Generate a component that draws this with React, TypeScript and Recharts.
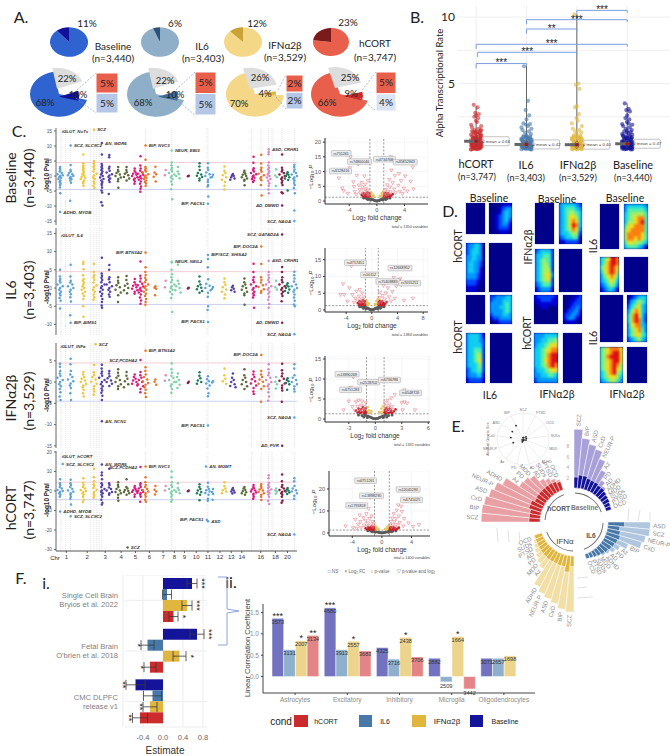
import React from 'react';
import {
  PieChart, Pie, Cell, BarChart, Bar, LabelList, ErrorBar, XAxis, YAxis, CartesianGrid,
  ScatterChart, Scatter, ReferenceLine, ReferenceDot,
  RadarChart, Radar, PolarGrid, PolarAngleAxis, PolarRadiusAxis,
} from 'recharts';

const LATO = 'Lato, "Open Sans", sans-serif';
const ARIAL = '"Liberation Sans", Arial, sans-serif';

const RED = '#CC2B2E';
const STEEL = '#4878A8';
const GOLD = '#E0B63E';
const NAVY = '#14149A';

// --- A: pies
const topShares = [11, 6, 12, 23];
const topMain = ['#2F63CF', '#8FAFC9', '#F5D788', '#E8604C'];
const topDark = ['#10109A', '#2C5278', '#C9A335', '#7B1A1A'];
const restShares = [68, 68, 70, 66];
const grayShares = [22, 22, 26, 25];
const hitShares = [10, 10, 4, 9];
const hitColors = ['#10109A', '#3D6A94', '#E0B63E', '#C92A2A'];
const startAngles = [100, 100, 105, 105];
const upperShares = [5, 5, 2, 5];
const lowerShares = [5, 5, 2, 4];
const lowerColors = ['#B4C7E7', '#B4C7E7', '#B4C7E7', '#DAE3F3'];

// --- B: alpha transcriptional rate
const hcortRates = [3.4, 3.2, 2.8, 2.7, 2.6, 2.5, 2.4, 2.2, 2.1, 1.9, 1.8, 1.7, 1.6, 1.5, 1.45, 1.4, 1.35, 1.3, 1.25, 1.2, 1.15, 1.1, 1.05, 1, 0.95, 0.9, 0.85, 0.8, 0.75, 0.7, 0.65, 0.6, 0.55, 0.5, 0.45, 0.4, 0.35, 0.3, 0.25, 0.2, 0.15, 0.1, 0.05, 1.5, 1.42, 1.34, 1.26, 1.18, 1.02, 0.92, 0.82, 0.72, 0.62, 0.52, 0.42, 0.32, 0.22, 0.12];
const il6Rates = [6.3, 3.7, 3, 2.6, 2.3, 2, 1.95, 1.9, 1.8, 1.7, 1.6, 1.5, 1.4, 1.3, 1.2, 1.1, 1.05, 1, 0.95, 0.9, 0.85, 0.8, 0.75, 0.7, 0.65, 0.6, 0.55, 0.5, 0.45, 0.4, 0.35, 0.3, 0.25, 0.2, 0.15, 0.1, 0.05];
const ifnRates = [10.2, 5, 4.9, 4.6, 3.3, 3.2, 2.7, 2.4, 2.2, 2, 1.8, 1.6, 1.5, 1.4, 1.3, 1.2, 1.1, 1.05, 1, 0.95, 0.9, 0.85, 0.8, 0.75, 0.7, 0.65, 0.6, 0.55, 0.5, 0.45, 0.4, 0.35, 0.3, 0.25, 0.2, 0.15, 0.1, 0.05];
const baseRates = [3.5, 3.1, 3, 2.9, 2.6, 2.4, 2.3, 2.1, 2, 1.95, 1.9, 1.8, 1.7, 1.6, 1.5, 1.45, 1.4, 1.35, 1.3, 1.25, 1.2, 1.15, 1.1, 1.05, 1, 0.95, 0.9, 0.85, 0.8, 0.75, 0.7, 0.65, 0.6, 0.55, 0.5, 0.45, 0.4, 0.35, 0.3, 0.25, 0.2, 0.15, 0.1, 0.05];
const lowRates = [1.02, 0.97, 0.92, 0.88, 0.83, 0.78, 0.74, 0.69, 0.64, 0.61, 0.57, 0.53, 0.49, 0.46, 0.43, 0.39, 0.36, 0.33, 0.29, 0.27, 0.24, 0.21, 0.18, 0.16, 0.13, 0.11, 0.08, 0.06, 0.04, 0.48, 0.41, 0.31, 0.26, 0.19, 0.14, 0.09];
const rateJitter = [-0.08, 0.05, -0.03, 0.09, 0, -0.06, 0.07, -0.01, 0.03, -0.1, 0.1];
const rateMeans = [0.66, 0.42, 0.4, 0.47];
const rateMax = [3.3, 6.3, 10.2, 3.5];
const bracketStart = [1, 1.03, 1, 2, 2, 3];
const bracketEnd = [2, 3, 4, 3, 4, 4];
const bracketY = [6.5, 7.35, 7.95, 9.1, 9.8, 10.5];
const bracketStars = ['***', '***', '***', '**', '***', '***'];

// --- C: per-locus association tracks
const columnPos = [1.7, 6.1, 11.4, 15.8, 19.1, 22.2, 25.9, 29.4, 32.8, 35.2, 37.3, 41.4, 45.7, 48.2, 50.8, 55.3, 59.8, 63.3, 65.4, 70.2, 73.7, 78.5, 82.3, 85.5, 88.6, 91.7, 94.2, 96.5, 99.3];
const columnColors = ['#5BA3D9', '#5BA3D9', '#F0C63A', '#F0C63A', '#5540A8', '#5540A8', '#5A6B3A', '#5A6B3A', '#D81B7F', '#D81B7F', '#E8742A', '#E8742A', '#E88AB0', '#7FD0A8', '#7FD0A8', '#8A1C45', '#1F7A5C', '#5BA3D9', '#5BA3D9', '#F0C63A', '#5540A8', '#5A6B3A', '#D81B7F', '#E8742A', '#D987C2', '#7FD0A8', '#8A1C45', '#1F7A5C', '#5BA3D9'];
const dottedPos = [2, 4, 6.1, 14.5, 15.8, 17, 18, 19.1, 37.3, 48.2, 63.3, 81.5, 85.5, 88.6, 90, 94.2, 99.3];
const chrTicks = [4.3, 13, 20.5, 27.1, 33.1, 38.9, 44.6, 49.3, 53.5, 58.4, 63.3, 68.3, 73, 77.4, 85.3, 91.4, 96.4];
const chrNames = ['1', '2', '3', '4', '5', '6', '7', '8', '9', '10', '11', '12', '13', '14', '16', '18', '20'];

const baselineHits = [
  [3, 2.5, 2, 1.5, 1, 0.6, 0.3, 0, -0.3, -0.6, -1, -1.5, -2, -2.5, -3, -3.8, -5.7],
  [3.7, 2, 1.5, 1, 0.6, 0.3, 0, -0.3, -0.7, -1, -1.5, -2.2, -8.2],
  [7.2, 4.3, 3.5, 3, 2.5, 2, 1.5, 1, 0.6, 0.2, -0.2, -0.6, -1, -1.5, -2, -2.5, -3.3],
  [5, 4.2, 3.5, 3, 2.3, 1.5, 0.8, 0.2, -0.5, -1, -1.8, -2.5, -3.2, -4],
  [7.2, 4, 3.4, 3, 2.5, 2, 1.5, 1, 0.5, 0, -0.5, -1, -1.5, -2, -2.5, -3, -3.8, -4.8, -5.5, -8.7, -9.8],
  [7, 6.3, 3.1, 2.5, 1.8, 1.2, 0.6, 0.2, -0.3, -0.8, -1.3, -2, -6],
  [3, 2, 1.5, 1, 0.5, 0, -0.5, -1, -1.7, -3.9],
  [3, 2, 1.3, 0.8, 0.3, -0.3, -0.8, -1.5],
  [2.5, 1.8, 1.2, 0.8, 0.4, 0, -0.4, -0.8, -1.2, -1.8, -2.6],
  [6.6, 3.5, 2.5, 1.8, 1.2, 0.8, 0.4, 0, -0.4, -0.8, -1.2, -1.8, -2.6, -3.5, -4.2, -5.2],
  [5.4, 3, 2.5, 2, 1.5, 1, 0.6, 0.2, -0.2, -0.6, -1, -1.5, -2, -2.5, -3.3],
  [3.1, 1.2, 0.6, -0.2, -1.8],
  [2, 0.3],
  [4.5, 3.6, 2.8, 2.2, 1.6, 1, 0.5, 0, -0.5, -1, -1.8, -2.8, -4.4, -7.7],
  [3, 1.5, 0.7, 0, -0.7],
  [0.1, -0.1],
  [4.3, 3.2, 2, 1, 0.5, 0.1, -0.3, -0.8, -1.5],
  [4.3, 2.8, 2, 1.2, 0.6, 0, -0.5, -1.2, -2, -3, -3.5, -6.8],
  [0.4, -0.3],
  [3.2, 1.8, 1, 0.3, -0.4, -1.2, -2, -3.2, -4.5],
  [0.7, 0.3, 0, -0.4, -0.8, -1.2],
  [1.8, 1.3, 0.8, 0.4, 0, -0.4, -0.8, -1.2, -1.6, -3.1],
  [6.4, 4.4, 2.6, 2, 1.5, 1, 0.6, 0.2, -0.2, -0.6, -1, -1.5, -2],
  [7.1, 4.2, 2.8, 2, 1.4, 0.8, 0.3, -0.3, -0.8, -1.4, -3, -6.5],
  [8, 7.3, 4.5, 3.5, 2.8, 2.2, 1.6, 1, 0.5, 0, -0.5, -1, -1.6, -2.4, -3.2, -4.5, -5.7],
  [2.3, 0.2, -0.4, -3.3],
  [7.2, 2.8, 2, 1.5, 1, 0.5, 0, -0.5, -1, -1.6, -2.2, -3, -5.4, -5.7],
  [1.3, 0.8, 0.4, 0, -0.4, -0.8, -1.3, -4.8],
  [3.8, 3, 2.2, 1.5, 1, 0.5, 0, -0.5, -1, -1.5, -2.2, -3, -4, -5.7, -11.5],
];
const il6Hits = [
  [5, 3.2, 2.5, 2, 1.5, 1, 0.5, 0, -0.5, -1, -1.5, -2, -2.7, -3.5, -5.6],
  [6.4, 3.2, 2, 1.5, 1, 0.5, 0, -0.5, -1, -1.7, -2.5, -3.7, -7.5],
  [7.2, 6.6, 5.2, 3.5, 2.5, 2, 1.5, 1, 0.5, 0, -0.5, -1, -1.5, -2.2, -3, -5, -7.9],
  [6.6, 4.4, 3.5, 3, 2.3, 1.5, 0.8, 0.2, -0.5, -1, -1.8, -2.5, -3.2],
  [8.3, 4, 3.4, 2.8, 2.2, 1.6, 1, 0.5, 0, -0.5, -1, -1.6, -2.2, -3, -3.8, -4.8, -5.4],
  [6.3, 5, 3, 2.4, 1.6, 1, 0.5, 0, -0.5, -1, -1.8, -2.4],
  [3, 2, 1.4, 0.8, 0.2, -0.5, -1.2, -2, -3.8],
  [3.3, 2.2, 1.2, 0.6, 0, -0.6, -1.4],
  [2.5, 1.6, 1, 0.6, 0.2, -0.2, -0.6, -1, -1.6],
  [7.3, 3.4, 2.6, 1.8, 1.2, 0.8, 0.4, 0, -0.4, -0.8, -1.2, -1.8, -2.6, -3.4, -4.3],
  [5.7, 4.4, 3.6, 2.8, 2.2, 1.6, 1, 0.5, 0, -0.5, -1, -1.6, -2.2, -3, -3.8, -4.6],
  [0.5, 0.1, -0.2, -2],
  [2, 0.2],
  [7, 5, 3.8, 3, 2.2, 1.6, 1, 0.5, 0, -0.5, -1, -1.7, -2.7, -6.6],
  [6.4, 2, 1.2, 0.5, 0, -0.6, -1.2],
  [0.1, -0.1],
  [3.2, 1.8, 1, 0.5, 0.1, -0.3, -0.8, -1.3],
  [8, 5.7, 2.4, 1.2, 0.6, 0, -0.6, -1.3, -2.4, -5, -6],
  [0.3, -0.2],
  [2.6, 1.6, 0.9, 0.2, -0.4, -1, -1.8, -2.8],
  [0.6, 0.2, -0.2, -0.6, -1],
  [2.6, 1.6, 1, 0.5, 0, -0.5, -1, -1.5, -2, -4.6],
  [6.7, 4.4, 3, 2.2, 1.6, 1, 0.5, 0, -0.5, -1, -1.5, -2, -2.6, -5.4],
  [6.6, 3, 2.2, 1.5, 0.8, 0.3, -0.3, -0.8, -1.3],
  [4.4, 3.6, 2.8, 2.2, 1.6, 1, 0.5, 0, -0.5, -1, -1.6, -2.4, -3.2, -4.4, -5.4],
  [2, 0.2, -0.4],
  [5.8, 4.4, 3, 2.2, 1.6, 1, 0.5, 0, -0.5, -1, -1.6, -2.2, -3.6],
  [1.3, 0.8, 0.4, 0, -0.4, -0.8, -1.3],
  [4.5, 3.5, 2.6, 1.8, 1, 0.5, 0, -0.5, -1, -1.8, -2.6, -3.5, -4.5, -5],
];
const ifnHits = [
  [4.3, 3.6, 2.6, 2, 1.5, 1, 0.5, 0, -0.5, -1, -1.6, -2.4, -3.4, -4.2],
  [5.5, 4.2, 2.6, 1.8, 1.2, 0.6, 0.2, -0.3, -0.8, -1.4, -2.6, -4.2],
  [2.4, 1.8, 1.2, 0.8, 0.4, 0, -0.4, -0.8, -1.2, -1.8, -2.6, -3.4],
  [4, 2.3, 1.7, 1.2, 0.6, 0.1, -0.4, -1, -1.6, -2.2, -3],
  [4.1, 3.2, 2.5, 2, 1.5, 1, 0.5, 0, -0.5, -1, -1.5, -2, -2.5, -3.2, -4.2],
  [2.6, 2, 1.4, 0.9, 0.4, 0, -0.4, -0.9],
  [3, 2.2, 1.5, 1, 0.5, 0, -0.5, -1, -1.6],
  [2.4, 1.5, 0.8, 0.2, -0.5, -1.2],
  [1.8, 1.2, 0.8, 0.4, 0, -0.4, -0.8],
  [2.4, 1.6, 1, 0.5, 0, -0.5, -1, -1.6, -2.4],
  [3.5, 2.6, 1.8, 1.2, 0.6, 0.2, -0.2, -0.6, -1.2, -1.8, -2.6, -3.5],
  [0.6, 0.1, -0.6],
  [1.6, 0.3],
  [4.4, 3, 2.2, 1.5, 1, 0.5, 0, -0.5, -1, -1.6, -2.5],
  [2, 1.2, 0.5, 0, -0.6, -1.4],
  [0.1, -0.2],
  [2.3, 1.5, 0.9, 0.4, 0, -0.4],
  [1.4, 0.7, 0.2, -0.3, -0.8, -1.5, -2.6, -3.3],
  [0.2, -0.1],
  [3.2, 1.6, 0.8, 0.2, -0.4],
  [2, 1, 0.5, 0, -0.5, -0.9, -1.2],
  [3, 1.6, 1, 0.5, 0, -0.5, -1, -1.6],
  [2.5, 1.8, 1.2, 0.7, 0.2, -0.3, -0.8, -1.4, -2.2, -2.8],
  [2.6, 1.8, 1.2, 0.6, 0.1, -0.4, -1, -1.6, -4.6],
  [4.2, 3, 2.2, 1.6, 1, 0.5, 0, -0.5, -1, -1.6, -2.4, -3.4, -4.4],
  [1.2, 0.1, -0.5, -1.5],
  [4.3, 2.8, 2, 1.4, 0.8, 0.3, -0.3, -0.8, -1.4, -2, -4.6],
  [0.9, 0.5, 0.2, -0.2, -0.5, -1.8],
  [4.2, 3.2, 1.6, 1, 0.5, 0, -0.5, -1, -1.6, -2.2],
];
const hcortHits = [
  [6, 4, 3, 2, 1.2, 0.5, 0, -0.5, -1.2, -2, -3],
  [5.8, 4, 3, 2, 1, 0.3, -0.4, -1.2, -2, -3, -4, -6.9],
  [6.5, 4.2, 3, 2, 1.2, 0.5, 0, -0.5, -1.2, -2, -3, -4.5, -5.7],
  [11.4, 7, 5, 3.5, 2.5, 1.5, 0.5, -0.5, -1.5, -2.5, -3.5],
  [9.5, 8, 6, 4, 3, 2, 1, 0.3, -0.4, -1.2, -2, -3, -4.5, -6, -7],
  [11.4, 4, 3, 1.8, 1, 0.3, -0.5, -1.2, -2],
  [4.5, 3, 2, 1, 0.3, -0.5, -1.2, -2, -3.5, -5],
  [6, 2, 1.2, 0.5, 0, -0.5, -1.2, -2],
  [2.5, 1.6, 1, 0.4, 0, -0.5, -1, -1.8, -3],
  [4, 3, 2, 1.2, 0.5, 0, -0.5, -1.2, -2, -3, -5.5],
  [7, 4.5, 3, 2, 1, 0.4, -0.3, -1, -2, -3, -4.5, -5.5],
  [2.5, 0.6, -0.3, -1.8],
  [2.5, 0.3],
  [10, 7, 4.5, 3, 2, 1, 0.4, -0.3, -1, -2, -3, -4.5, -5.5],
  [4, 1.5, 0.5, -0.4, -1.2],
  [0.2, -0.2],
  [3.5, 2, 1, 0.3, -0.5, -1.2, -2, -4.8],
  [4.2, 2.2, 1, 0.4, -0.3, -1, -2, -4, -5],
  [1, -0.5, -1.5, -4.5],
  [4.5, 2.5, 1.2, 0.4, -0.3, -1.2],
  [1.5, 0.8, 0.3, -0.3, -0.8, -1.3],
  [2, 1.2, 0.6, 0, -0.6, -1.2, -2],
  [3, 2, 1.4, 0.8, 0.3, -0.3, -0.8, -1.4, -2, -3, -4],
  [3.5, 2.4, 1.5, 0.8, 0.2, -0.5, -1.2, -2, -3, -4.6],
  [8, 6.5, 4.2, 3, 2.2, 1.5, 0.8, 0.2, -0.4, -1, -1.8, -3, -5, -6.7],
  [1.2, 0.2, -0.4, -1.4],
  [8.5, 5, 3, 2, 1.2, 0.5, 0, -0.5, -1.2, -2, -3, -5, -6],
  [1.5, 0.8, 0.3, -0.3, -0.8, -1.5],
  [6.5, 5, 2.5, 1.2, 0.4, -0.3, -1.2, -2.5, -4],
];

// named hits: position, -log10 p, gene, side of the label
const baselineGenes: [number, number, string, string][] = [
  [15.8, 15.4, 'SCZ', 'right'], [6.1, 10.2, 'SCZ, SLC9C2', 'right'], [19.1, 11, 'AN, WDR6', 'right'],
  [37.3, 10.2, 'BIP, NVC3', 'right'], [48.2, 8.5, 'NEUR, EBI3', 'right'], [88.6, 8.9, 'ASD, CRHR1', 'right'],
  [63.3, -9.2, 'BIP, PACS1', 'left'], [94.2, -9.8, 'AD, DMWD', 'left'], [99.3, -15, 'SCZ, NAGA', 'left'],
  [1.7, -12, 'ADHD, MYDB', 'right'],
];
const il6Genes: [number, number, string, string][] = [
  [37.3, 9.8, 'BIP, BTN3A2', 'left'], [63.3, 9.1, 'BIP/SCZ, SHISA2', 'right'], [48.2, 7.2, 'NEUR, NEIL2', 'right'],
  [94.2, 14.7, 'SCZ, GATAD2A', 'left'], [85.5, 11.4, 'BIP, DOC2A', 'left'], [88.6, 7.5, 'ASD, CRHR1', 'right'],
  [6.1, -9.5, 'BIP, AIMS1', 'right'], [63.3, -9.3, 'BIP, PACS1', 'left'], [94.2, -9.5, 'AD, DMWD', 'left'],
  [99.3, -12.7, 'SCZ, NAGA', 'left'],
];
const ifnGenes: [number, number, string, string][] = [
  [16.5, 8.9, 'SCZ', 'right'], [37.3, 7.4, 'BIP, BTN3A2', 'right'], [35.2, 5.2, 'SCZ,PCDHA2', 'left'],
  [85.5, 6.4, 'BIP, DOC2A', 'left'], [19.1, -9.2, 'AN, NCN1', 'right'], [63.3, -10.2, 'BIP, PACS1', 'left'],
  [94.2, -15, 'AD, PVR', 'left'], [99.3, -8.3, 'SCZ, NAGA', 'left'],
];
const hcortGenes: [number, number, string, string][] = [
  [19.1, 13.6, 'AN, WDR6', 'right'], [35.2, 12.3, 'SCZ,PCDHA2', 'left'], [37.3, 12.5, 'BIP, NVC3', 'right'],
  [62.5, 12.5, 'AN, MGMT', 'right'], [1.7, -10.5, 'ADHD, MYDB', 'right'], [6.1, -13, 'SCZ, SLC9C2', 'right'],
  [63.3, -15.5, 'ASD', 'right'], [62.8, -14.8, 'BIP, PACS1', 'left'], [29.8, -29, 'SCZ', 'right'],
  [99.3, -22.3, 'SCZ, NAGA', 'left'], [2.8, 13.8, 'SCZ, SLC9C2', 'right'],
];

// --- C: volcanoes (log2 fc, -log10 p)
const volcanoCore = [[-2.2, 2.1], [-2, 1.6], [-1.9, 2.6], [-1.8, 1.9], [-1.7, 1.5], [-1.6, 2.4], [-1.5, 1.7], [-1.4, 2.9], [-1.3, 1.6], [-1.25, 2.2], [-1.2, 1.5], [-1.15, 1.9], [-1.1, 2.6], [-1.05, 1.6], [1.05, 1.6], [1.1, 2.3], [1.15, 1.5], [1.2, 1.9], [1.25, 2.7], [1.3, 1.6], [1.4, 2.2], [1.5, 1.5], [1.6, 2.6], [1.7, 1.7], [1.8, 2.1], [1.9, 1.5], [2.1, 1.9], [2.3, 2.4]];
const volcanoGold = [[-1, 2], [-0.9, 1.6], [-0.85, 3], [-0.7, 2.2], [-0.6, 1.5], [-0.45, 1.9], [0.45, 1.8], [0.55, 1.5], [0.7, 2.6], [0.8, 1.8], [0.9, 3.2], [1, 2]];
const volcanoGray = [[-1.9, 1], [-1.5, 0.9], [-1.2, 1.1], [-1, 0.8], [-0.8, 0.7], [-0.6, 0.5], [-0.45, 0.35], [-0.3, 0.2], [-0.15, 0.1], [0, 0.05], [0.15, 0.1], [0.3, 0.2], [0.45, 0.35], [0.6, 0.5], [0.8, 0.7], [1, 0.8], [1.2, 1.1], [1.5, 0.9], [1.9, 1], [-1.3, 0.5], [-0.9, 0.35], [0.9, 0.35], [1.3, 0.5]];
const volcanoRed1 = [[-5.5, 7.7], [-5, 4.3], [-4.8, 3.4], [-4.2, 2.5], [-3.9, 11.2], [-3.8, 14.9], [-3.4, 6.4], [-3.3, 4.8], [-3.2, 3.1], [-3, 2.2], [-2.9, 8.6], [-2.7, 12.4], [-2.6, 5.3], [-2.5, 3.8], [-2.4, 2.6], [-2.2, 6.2], [-2.1, 4.7], [-2, 3.4], [-1.9, 2.3], [-1.8, 8.4], [-1.7, 5.6], [-1.6, 4.1], [-1.5, 3], [-1.4, 2], [-1.3, 6.8], [-1.3, 3.6], [-1.2, 2.4], [-1.1, 1.8], [1.1, 1.8], [1.2, 2.6], [1.3, 3.8], [1.4, 2.1], [1.5, 5.4], [1.6, 3.2], [1.7, 2.3], [1.8, 7.2], [1.9, 4.6], [2, 14.9], [2, 3], [2.1, 10.4], [2.3, 6.1], [2.5, 4], [2.6, 8.5], [2.7, 2.7], [3, 13], [3.1, 5.2], [3.2, 9.2], [3.3, 3.2], [3.5, 6.8], [3.7, 2.4], [3.9, 4.2], [4.1, 8.4], [4.4, 3.3], [4.9, 6.6], [5.2, 11.4], [5.3, 4]];
const volcanoRed2 = [[-4.9, 4.5], [-4.5, 7.7], [-4.3, 4.5], [-3.8, 2.5], [-3.5, 6.5], [-3.2, 13], [-3, 4.5], [-2.8, 2.2], [-2.6, 3.4], [-2.4, 5.5], [-2.2, 2.8], [-2, 4], [-1.9, 6], [-1.8, 2.2], [-1.6, 3.2], [-1.5, 5], [-1.4, 2.6], [-1.2, 3.8], [-1.1, 2], [-0.4, 10.2], [1.1, 2], [1.2, 3.6], [1.3, 5.2], [1.5, 2.6], [1.7, 4.2], [1.8, 7.2], [2, 3.2], [2.2, 5], [2.3, 2.2], [2.5, 6.5], [2.7, 3.8], [2.8, 8.6], [3, 2.6], [3.1, 12.2], [3.2, 5.4], [3.4, 9.6], [3.6, 3.4], [3.8, 7], [4.2, 8.8], [4.4, 9.2], [4.6, 7.4], [5, 2.8], [6.4, 3.4]];
const volcanoRed3 = [[-3.6, 2.2], [-3, 4.4], [-2.8, 7.8], [-2.6, 3], [-2.5, 10.4], [-2.3, 2], [-2.2, 4.2], [-2, 3], [-1.9, 4.6], [-1.7, 2.2], [-1.6, 3.4], [-1.5, 4.4], [-1.4, 2], [-1.3, 3], [-1.2, 2.4], [-1.1, 4], [1.1, 4], [1.15, 2.4], [1.2, 3.2], [1.3, 1.9], [1.4, 4.6], [1.5, 2.8], [1.6, 3.6], [1.7, 2.2], [1.8, 5.2], [1.9, 3], [2, 2.2], [2.2, 6], [3, 4], [3.1, 2.2], [3.3, 4.2], [3.3, 7.2], [3.6, 3.9], [4.5, 2.2]];
const volcanoRed4 = [[-4.9, 3], [-3.9, 2.2], [-3.6, 6], [-3.4, 2], [-3.2, 3.8], [-3, 8], [-2.9, 5], [-2.8, 2.4], [-2.6, 23], [-2.5, 6.8], [-2.4, 3.4], [-2.2, 5.4], [-2.1, 8.6], [-2, 2.8], [-1.9, 4.4], [-1.8, 11], [-1.7, 6.4], [-1.6, 16], [-1.5, 3.4], [-1.4, 7.6], [-1.3, 5], [-1.2, 2.6], [-1.1, 4], [1.1, 3.4], [1.2, 5], [1.3, 2.4], [1.4, 6.6], [1.5, 3.6], [1.6, 8.6], [1.7, 5], [1.8, 2.6], [1.9, 6.4], [2, 10.2], [2.1, 3.6], [2.2, 12.6], [2.3, 7.6], [2.4, 4.6], [2.6, 12], [2.7, 9.6], [2.9, 3], [3, 6.4], [3.1, 20], [3.3, 14.4], [3.6, 4.4], [4.2, 2.8], [5, 3.6]];
const volcanoLabels1: [number, number, string][] = [[-5.15, 16.2, 'rs751261'], [-2.5, 13.4, 'rs74800046'], [-5.25, 10.2, 'rs6128416'], [1.1, 14.2, 'rs4734768'], [4.1, 13.2, 'rs35852943']];
const volcanoLabels2: [number, number, string][] = [[-2.55, 14.1, 'rs4757451'], [-0.36, 10.5, 'rs10112'], [2.5, 8.5, 'rs75408883'], [4.4, 12.5, 'rs12668952'], [5.9, 8, 'rs7055251']];
const volcanoLabels3: [number, number, string][] = [[-3.2, 11.2, 'rs13990269'], [-0.75, 9.2, 'rs2528702'], [-2.8, 7.3, 'rs6751283'], [1.6, 9.75, 'rs6736786'], [4, 6.5, 'rs6548726']];
const volcanoLabels4: [number, number, string][] = [[-2.2, 23.8, 'rs6751261'], [-1.4, 16.9, 'rs13998290'], [-3.4, 12.5, 'rs1791858'], [3.55, 19.8, 'rs12045293'], [4, 15, 'rs6741025']];

// --- D: density tiles, one digit per cell from cold (0) to hot (9)
const jet = ['#00008B', '#0000D8', '#0048FF', '#0098FF', '#10D0F0', '#50F0B0', '#A8F060', '#F0E020', '#FF8010', '#E01010'];
const coldTile = ['0'];
const heatA1 = ['0000111', '0001233', '0001343', '0012343', '0012342', '0012331', '0012221', '0001110'];
const heatA2 = ['2334430', '2344430', '3344330', '3443320', '3443310', '3333210', '2222100', '1111000'];
const heatB1 = ['3444432', '3455543', '3456654', '3457764', '3457874', '3457984', '3456873', '3445662', '2344551', '1122220'];
const heatB2 = ['2344442', '3445552', '3456552', '3456652', '3456662', '3456773', '3456672', '2345552', '1233331'];
const heatC1 = ['3444443', '3555554', '4566665', '4567885', '4667895', '5778885', '6788885', '6888875', '6887875', '5776654', '4555431'];
const heatC2 = ['4567998', '4578998', '5678987', '4678986', '3567875', '3456764', '2345653', '1234431'];
const heatD1 = ['2233344', '2333444', '3333454', '3334454', '3333454', '2333443', '1223333', '0012222'];
const heatD2 = ['3444431', '3444432', '3444442', '3445552', '3445662', '3445672', '3444562', '2344552', '2333441', '1222221'];
const heatE0 = ['1222221', '1122211', '0111111', '0011000', '0000000', '0000000', '0000000', '0000000'];
const heatE1 = ['0000112', '0001122', '0011222', '0012232', '0122331', '1223321', '1233210', '0111100'];
const heatE2 = ['3334444', '3344556', '3445677', '4456788', '4456899', '4457899', '4456898', '3445677', '3344554', '2333333'];
const heatF1 = ['0123444', '1345654', '2456743', '3578743', '4689742', '4689842', '3678843', '3567853', '3567754', '2345643'];
const heatF2 = ['5678887', '5678997', '5689997', '5678997', '5678986', '5678976', '4578965', '4567764', '3456653'];

// --- E: circular bars, one value per disorder
const hcortNames = ['SCZ', 'BIP', 'CxD', 'ASD', 'NEUR-P', 'ADHD', 'Az', 'PD', 'MDD', 'AD', 'SUDs', 'PTSD', 'OCD'];
const hcortLight = [10.7, 10.7, 10.5, 10, 9.5, 8.5, 5.7, 5.5, 5, 3.5, 3, 2.5, 2];
const hcortDark = [2, 2, 2, 2.4, 2.4, 1.9, 2, 2, 2, 2, 2, 1.9, 1.6];
const baseNames = ['SCZ', 'BIP', 'ASD', 'CxD', 'NEUR-P', 'Az', 'PD', 'AD', 'ADHD', 'MDD', 'SUDs', 'PTSD', 'OCD'];
const baseLight = [10.7, 9.1, 8.2, 7.6, 6.2, 4.5, 2.9, 2.2, 1.6, 1.2, 1, 0.8, 0.6];
const baseDark = [2, 2.4, 2.4, 2.1, 2, 2, 1.8, 1.8, 1.6, 1.4, 1.3, 1.1, 1];
const il6Names = ['ASD', 'SCZ', 'NEUR-P', 'CxD', 'BIP', 'Az', 'PD', 'AD', 'ADHD', 'MDD', 'SUDs', 'PTSD', 'OCD'];
const il6Light = [7.7, 7.7, 7.1, 6.7, 4.5, 3.3, 2.8, 2.2, 1.9, 1.4, 1.1, 0.9, 0.8];
const il6Dark = [3, 2.2, 2.4, 2.6, 2.4, 2.2, 2, 1.8, 1.6, 1.4, 1.2, 1, 0.9];
const ifnNames = ['SCZ', 'BIP', 'CxD', 'ASD', 'NEUR-P', 'ADHD', 'Az', 'MDD', 'PD', 'AD', 'PTSD', 'SUDs', 'OCD'];
const ifnLight = [10.2, 9.8, 9, 8.5, 8, 7.2, 4, 3.5, 3, 2.6, 2.2, 1.9, 1.6];
const ifnDark = [1.9, 3, 2.1, 2.1, 2, 2, 2, 1.9, 1.8, 1.7, 1.6, 1.5, 1.4];
const polarNames = ['SCZ', 'PTSD', 'OCD', 'SUDs', 'MDD', 'ADHD', 'AD', 'PD', 'Az', 'NEUR-P', 'CxD', 'ASD', 'BIP'];
const polarValues = [0.05, 0.06, 0.14, 0.13, 0.12, 0.05, 0.06, 0.11, 0.05, 0.4, 0.47, 0.5, 0.58];

// --- F.i: regression estimates
const studies = ['Single Cell Brain|Bryios et al. 2022', "Fetal Brain|O'brien et al. 2018", 'CMC DLPFC|release v1'];
const estBaseline = [0.58, 0.68, -0.55];
const estIL6 = [0.08, -0.31, -0.21];
const estIFN = [0.48, 0.33, -0.26];
const estHcort = [0.21, -0.26, -0.46];
const errBaseline = [0.1, 0.14, 0.19];
const errIL6 = [0.09, 0.13, 0.18];
const errIFN = [0.1, 0.13, 0.14];
const errHcort = [0.09, 0.12, 0.15];
const starsBaseline = ['***', '***', '**'];
const starsIL6 = ['', '*', ''];
const starsIFN = ['***', '*', '**'];
const starsHcort = ['*', '*', '**'];
const estimateTable = studies.map((study, i) => ({
  study,
  baseline: estBaseline[i], baselineErr: errBaseline[i],
  il6: estIL6[i], il6Err: errIL6[i],
  ifn: estIFN[i], ifnErr: errIFN[i],
  hcort: estHcort[i], hcortErr: errHcort[i],
}));

// --- F.ii: correlation by cell type
const cellTypes = ['Astrocytes', 'Excitatory', 'Inhibitory', 'Microglia', 'Oligodendrocytes'];
const corrBaseline = [1.365, 1.61, 0.68, 0.43, 0.43];
const corrIL6 = [0.63, 0.63, 0.41, -0.125, 0.43];
const corrIFN = [0.84, 0.83, 0.92, 0.94, 0.486];
const corrHcort = [0.965, 0.6, 0.46, -0.29, 0];
const nBaseline = [3573, 4580, 4325, 2882, 3071];
const nIL6 = [3131, 3913, 3716, 2509, 2657];
const nIFN = [2007, 2557, 2438, 1664, 1698];
const nHcort = [3134, 3683, 3706, 3442, 2652];
const sigBaseline = ['***', '***', '', '', ''];
const sigIL6 = ['', '', '', '', ''];
const sigIFN = ['*', '*', '*', '*', ''];
const sigHcort = ['**', '', '', '', ''];
const corrTable = cellTypes.map((cell, i) => ({
  cell, baseline: corrBaseline[i], il6: corrIL6[i], ifn: corrIFN[i], hcort: corrHcort[i],
}));

function Box({ left, top, children, style }: any) {
  return <div style={{ position: 'absolute', left, top, ...style }}>{children}</div>;
}

function T({ x, y, size = 10, color = '#222', anchor = 'middle', rotate = 0, weight, italic, font = LATO, children }: any) {
  return (
    <text
      x={x} y={y} fontSize={size} fill={color} textAnchor={anchor} dominantBaseline="central"
      fontFamily={font} fontWeight={weight} fontStyle={italic ? 'italic' : undefined}
      transform={rotate ? `rotate(${rotate} ${x} ${y})` : undefined}
    >
      {children}
    </text>
  );
}

// the pies in the reference are stretched sideways, so they get squeezed vertically
const PIE_SQUEEZE = 0.78;

function TopPie({ cx, cy, r, i }: any) {
  const data = [{ v: 100 - topShares[i] }, { v: topShares[i] }];
  return (
    <Box left={cx - r - 1} top={cy - r - 1} style={{ transform: `scaleY(${PIE_SQUEEZE})` }}>
      <PieChart width={2 * r + 2} height={2 * r + 2} margin={{ top: 0, right: 0, bottom: 0, left: 0 }}>
        <Pie data={data} dataKey="v" cx={r + 1} cy={r + 1} outerRadius={r} startAngle={90} endAngle={-270} stroke="none" isAnimationActive={false}>
          <Cell fill={topMain[i]} />
          <Cell fill={topDark[i]} />
        </Pie>
      </PieChart>
    </Box>
  );
}

function ExplodedPie({ left, i, rest, gray, hit }: any) {
  const a0 = startAngles[i];
  const a1 = a0 - grayShares[i] * 3.6;
  const a2 = a1 - hitShares[i] * 3.6;
  const a3 = a2 - restShares[i] * 3.6;
  const slice = (key: string, value: number, from: number, to: number, at: number[], r: number, fill: string) => (
    <Pie key={key} data={[{ v: value }]} dataKey="v" cx={at[0]} cy={at[1]} outerRadius={r} startAngle={from} endAngle={to} fill={fill} stroke="none" isAnimationActive={false} />
  );
  return (
    <Box left={left} top={60} style={{ transform: `scaleY(${PIE_SQUEEZE})`, transformOrigin: 'top left' }}>
      <PieChart width={80} height={80} margin={{ top: 0, right: 0, bottom: 0, left: 0 }}>
        {slice('rest', restShares[i], a2, a3, rest, 29, topMain[i])}
        {slice('gray', grayShares[i], a0, a1, gray, 27, '#DDDDDD')}
        {slice('hit', hitShares[i], a1, a2, hit, 20, hitColors[i])}
      </PieChart>
    </Box>
  );
}

function SplitBar({ left, top, width, height, i }: any) {
  const data = [{ name: 'share', upper: upperShares[i], lower: lowerShares[i] }];
  const lab = { fontSize: 10, fill: '#222', fontFamily: LATO };
  return (
    <Box left={left} top={top}>
      <BarChart width={width} height={height} data={data} margin={{ top: 0, right: 0, bottom: 0, left: 0 }} barCategoryGap={0}>
        <XAxis dataKey="name" hide />
        <YAxis hide domain={[0, upperShares[i] + lowerShares[i]]} />
        <Bar dataKey="lower" stackId="s" fill={lowerColors[i]} stroke="#fff" isAnimationActive={false}>
          <LabelList dataKey="lower" position="center" formatter={(v: any) => `${v}%`} style={lab} />
        </Bar>
        <Bar dataKey="upper" stackId="s" fill="#E8604C" stroke="#fff" isAnimationActive={false}>
          <LabelList dataKey="upper" position="center" formatter={(v: any) => `${v}%`} style={lab} />
        </Bar>
      </BarChart>
    </Box>
  );
}

function PanelA() {
  return (
    <>
      <TopPie cx={69} cy={42} r={19} i={0} />
      <TopPie cx={160} cy={42} r={19} i={1} />
      <TopPie cx={243} cy={42} r={19} i={2} />
      <TopPie cx={331} cy={42} r={18} i={3} />
      <ExplodedPie left={20} i={0} rest={[39, 43.6]} gray={[37, 37]} hit={[39, 47]} />
      <ExplodedPie left={118} i={1} rest={[38, 43.6]} gray={[35, 37]} hit={[40, 47]} />
      <ExplodedPie left={216} i={2} rest={[39, 43.6]} gray={[34, 37]} hit={[40, 44]} />
      <ExplodedPie left={302} i={3} rest={[38, 43.6]} gray={[33, 36]} hit={[41, 46]} />
      <SplitBar left={96} top={73} width={22} height={40} i={0} />
      <SplitBar left={195} top={72} width={21} height={43} i={1} />
      <SplitBar left={286} top={75} width={17} height={34} i={2} />
      <SplitBar left={376} top={72} width={20} height={39} i={3} />
    </>
  );
}

const rateDot = (color: string) => (p: any) => <circle cx={p.cx} cy={p.cy} r={2.1} fill={color} fillOpacity={0.6} />;

function MeanMark(p: any) {
  const { cx, cy, payload } = p;
  return (
    <g>
      <polygon points={`${cx - 3},${cy} ${cx},${cy - 4} ${cx + 3},${cy} ${cx},${cy + 4}`} fill="none" stroke="#555" strokeWidth={0.6} />
      <rect x={cx - 12} y={cy - 1.5} width={14} height={3} fill="#666" />
      <circle cx={cx} cy={cy} r={1.8} fill="#B0101A" />
      <rect x={cx + 7} y={cy - 4.5} width={26} height={9} fill="#fff" stroke="#999" strokeWidth={0.6} rx={1} />
      <text x={cx + 20} y={cy + 1.5} fontSize={4.4} fill="#444" textAnchor="middle" fontFamily={ARIAL}>{`μ̂ mean = ${payload.mean.toFixed(2)}`}</text>
    </g>
  );
}

function PanelB() {
  const groups = [hcortRates, il6Rates, ifnRates, baseRates];
  const colors = [RED, STEEL, GOLD, NAVY];
  const series = groups.map((rates, g) =>
    [...rates, ...lowRates].map((rate, i) => ({ x: g + 1 + rateJitter[i % rateJitter.length] * (rate > 2 ? 0.6 : 1), y: rate })));
  const means = rateMeans.map((mean, g) => ({ x: g + 1, y: mean, mean }));
  const drop = 0.35;
  return (
    <Box left={430} top={0}>
      <ScatterChart width={240} height={152} margin={{ top: 6, right: 0, bottom: 0, left: 0 }}>
        <CartesianGrid stroke="#EFEFEF" horizontalValues={[0, 2.5, 5, 7.5, 10]} verticalValues={[1, 2, 3, 4]} />
        <XAxis type="number" dataKey="x" domain={[0.64, 4.85]} hide />
        <YAxis type="number" dataKey="y" domain={[-0.15, 10.83]} ticks={[0, 5, 10]} width={28} axisLine={false} tickLine={false} tickSize={0} tickMargin={3} tick={{ fontSize: 12, fill: '#222', fontFamily: LATO }} allowDataOverflow />
        {rateMax.map((m, g) => (
          <ReferenceLine key={g} segment={[{ x: g + 1, y: 0 }, { x: g + 1, y: m }]} stroke="#666" strokeWidth={1} ifOverflow="visible" />
        ))}
        {series.map((data, g) => (
          <Scatter key={g} data={data} shape={rateDot(colors[g])} isAnimationActive={false} />
        ))}
        <Scatter data={means} shape={MeanMark} isAnimationActive={false} />
        {bracketY.map((y, b) => (
          <React.Fragment key={b}>
            <ReferenceLine segment={[{ x: bracketStart[b], y }, { x: bracketEnd[b], y }]} stroke="#7A9FE0" strokeWidth={1} ifOverflow="visible" />
            <ReferenceLine segment={[{ x: bracketStart[b], y: y - drop }, { x: bracketStart[b], y }]} stroke="#7A9FE0" strokeWidth={1} ifOverflow="visible" />
            <ReferenceLine segment={[{ x: bracketEnd[b], y: y - drop / 2 }, { x: bracketEnd[b], y }]} stroke="#7A9FE0" strokeWidth={1} ifOverflow="visible" />
            <ReferenceDot x={(bracketStart[b] + bracketEnd[b]) / 2} y={y + 0.05} r={0} fill="none" stroke="none" ifOverflow="visible"
              label={{ value: bracketStars[b], position: 'center', fontSize: 10, fill: '#222', fontFamily: ARIAL }} />
          </React.Fragment>
        ))}
      </ScatterChart>
    </Box>
  );
}

const beeSteps = [0, -0.35, 0.35, -0.7, 0.7, -1.1, 1.1];

function Manhattan({ top, height, domain, ticks, hits, genes, axis }: any) {
  const dot = (color: string) => (p: any) => <circle cx={p.cx} cy={p.cy} r={1.25} fill={color} />;
  return (
    <Box left={36} top={top - 4}>
      <ScatterChart width={262} height={height + 8 + (axis ? 14 : 0)} margin={{ top: 4, right: 1, bottom: 4, left: 0 }}>
        <XAxis type="number" dataKey="pos" domain={[0, 100]} hide={!axis} ticks={chrTicks} height={axis ? 14 : 0} interval={0}
          tickFormatter={(v: number) => chrNames[chrTicks.indexOf(v)]} tick={{ fontSize: 6, fill: '#333', fontFamily: ARIAL }} tickSize={2} stroke="#555" />
        <YAxis type="number" dataKey="logp" domain={domain} ticks={ticks} width={20} allowDataOverflow interval={0}
          tick={{ fontSize: 4.8, fill: '#555', fontFamily: ARIAL }} tickSize={2} stroke="#666" />
        {dottedPos.map(x => <ReferenceLine key={x} x={x} stroke="#D8D8D8" strokeWidth={0.7} strokeDasharray="1 1" />)}
        <ReferenceLine y={4.5} stroke="#F3CDD4" strokeWidth={1} />
        <ReferenceLine y={-4.5} stroke="#CCD0EE" strokeWidth={1} />
        {hits.map((values: number[], c: number) => (
          <Scatter key={c} isAnimationActive={false} shape={dot(columnColors[c])}
            data={values.map((v, i) => ({ pos: columnPos[c] + beeSteps[i % 7] * (Math.abs(v) < 1.3 ? 1 : 0.2), logp: v }))} />
        ))}
        {genes.map(([pos, logp, gene, side]: any) => {
          const near = columnPos.reduce((a, b) => (Math.abs(b - pos) < Math.abs(a - pos) ? b : a));
          return (
            <ReferenceDot key={gene + pos + logp} x={pos} y={logp} r={1.25} stroke="none" fill={columnColors[columnPos.indexOf(near)]}
              label={{ value: gene, position: side, offset: 2, fontSize: 4.4, fontStyle: 'italic', fontWeight: 700, fill: '#333', fontFamily: ARIAL }} />
          );
        })}
      </ScatterChart>
    </Box>
  );
}

const toPoints = (list: number[][]) => list.map(([x, y]) => ({ x, y }));

const openTriangle = (p: any) => (
  <polygon points={`${p.cx - 1.7},${p.cy - 1.4} ${p.cx + 1.7},${p.cy - 1.4} ${p.cx},${p.cy + 1.6}`} fill="#fff" fillOpacity={0.15} stroke="#D9707A" strokeWidth={0.5} />
);
const coreDot = (p: any) => <circle cx={p.cx} cy={p.cy} r={1.3} fill="#C5202C" />;
const goldDot = (p: any) => <circle cx={p.cx} cy={p.cy} r={1.3} fill="#E8C75A" />;
const grayDot = (p: any) => <circle cx={p.cx} cy={p.cy} r={1.5} fill="#5A5A5A" />;

const tagShape = (text: string) => (p: any) => {
  const w = text.length * 2.1 + 3;
  return (
    <g>
      <rect x={p.cx - w / 2} y={p.cy - 2.8} width={w} height={5.6} fill="#EDEDED" stroke="#8A8A8A" strokeWidth={0.4} rx={0.8} />
      <text x={p.cx} y={p.cy + 1.3} fontSize={3.7} fill="#333" textAnchor="middle" fontFamily={ARIAL}>{text}</text>
    </g>
  );
};

function Volcano({ left, top, right, bottom, xDomain, yDomain, xTicks, yTicks, red, tags }: any) {
  const tickStyle = { fontSize: 5.6, fill: '#555', fontFamily: ARIAL };
  return (
    <Box left={left - 14} top={top}>
      <ScatterChart width={right - left + 14} height={bottom - top + 10} margin={{ top: 0, right: 0, bottom: 0, left: 0 }}>
        <CartesianGrid stroke="#F0F0F0" strokeWidth={0.6} />
        <XAxis type="number" dataKey="x" domain={xDomain} ticks={xTicks} height={10} tick={tickStyle} tickSize={2} stroke="#333" allowDataOverflow interval={0} />
        <YAxis type="number" dataKey="y" domain={yDomain} ticks={yTicks} width={14} tick={tickStyle} tickSize={2} stroke="#333" allowDataOverflow interval={0} />
        <ReferenceLine x={-1} stroke="#555" strokeWidth={0.6} strokeDasharray="2 1.5" />
        <ReferenceLine x={1} stroke="#555" strokeWidth={0.6} strokeDasharray="2 1.5" />
        <ReferenceLine y={1.3} stroke="#555" strokeWidth={0.6} strokeDasharray="2 1.5" />
        <Scatter data={toPoints(volcanoGray)} shape={grayDot} isAnimationActive={false} />
        <Scatter data={toPoints(volcanoGold)} shape={goldDot} isAnimationActive={false} />
        <Scatter data={toPoints(volcanoCore)} shape={coreDot} isAnimationActive={false} />
        <Scatter data={toPoints(red)} shape={openTriangle} isAnimationActive={false} />
        {tags.map(([x, y, text]: any) => (
          <ReferenceDot key={text} x={x} y={y} r={0} shape={tagShape(text)} ifOverflow="visible" />
        ))}
      </ScatterChart>
    </Box>
  );
}

function HeatTile({ left, right, top, bottom, rows }: any) {
  const w = right - left;
  const h = bottom - top;
  const nr = rows.length;
  const nc = rows[0].length;
  const cw = w / nc + 0.5;
  const ch = h / nr + 0.5;
  const cells = rows.flatMap((row: string, r: number) =>
    [...row].map((d, c) => ({ col: c + 0.5, row: nr - r - 0.5, level: Number(d) })));
  const cell = (p: any) => <rect x={p.cx - cw / 2} y={p.cy - ch / 2} width={cw} height={ch} fill={jet[p.payload.level]} />;
  return (
    <Box left={left} top={top} style={{ width: w, height: h, overflow: 'hidden', background: jet[0], boxShadow: '0 0 0 0.5px #C5CCE8' }}>
      <div style={{ filter: nc > 1 ? 'blur(1.2px)' : undefined }}>
        <ScatterChart width={w} height={h} margin={{ top: 0, right: 0, bottom: 0, left: 0 }}>
          <XAxis type="number" dataKey="col" domain={[0, nc]} hide />
          <YAxis type="number" dataKey="row" domain={[0, nr]} hide />
          <Scatter data={cells} shape={cell} isAnimationActive={false} />
        </ScatterChart>
      </div>
    </Box>
  );
}

function HeatQuad({ lx, rx, ty, by, tl = coldTile, tr, bl }: any) {
  return (
    <>
      <HeatTile left={lx[0]} right={lx[1]} top={ty[0]} bottom={ty[1]} rows={tl} />
      <HeatTile left={rx[0]} right={rx[1]} top={ty[0]} bottom={ty[1]} rows={tr} />
      <HeatTile left={lx[0]} right={lx[1]} top={by[0]} bottom={by[1]} rows={bl} />
      <HeatTile left={rx[0]} right={rx[1]} top={by[0]} bottom={by[1]} rows={coldTile} />
    </>
  );
}

const E_CX = 574;
const E_CY = 522;
const R0 = 34;
const UNIT = 5.5;
const STEP = 5.5;

function radialPies(start: number, values: number[], color: string, at: number[], tag: string) {
  return values.map((v, i) => (
    <Pie key={tag + i} data={[{ v: 1 }]} dataKey="v" cx={at[0]} cy={at[1]} innerRadius={R0} outerRadius={R0 + v * UNIT}
      startAngle={start - i * STEP} endAngle={start - (i + 1) * STEP} fill={color} stroke="#fff" strokeWidth={0.5} isAnimationActive={false} />
  ));
}

function radialLabels(start: number, names: string[], light: number[], dark: number[]) {
  return names.map((name, i) => {
    const a = start - (i + 0.5) * STEP;
    const rad = (a * Math.PI) / 180;
    const r = R0 + Math.max(light[i], dark[i]) * UNIT + 3;
    const x = E_CX + r * Math.cos(rad);
    const y = E_CY - r * Math.sin(rad);
    const left = Math.cos(rad) < 0;
    return (
      <T key={name + start} x={x} y={y} size={6} color="#8A8A8A" font={ARIAL} anchor={left ? 'end' : 'start'} rotate={left ? 180 - a : -a}>{name}</T>
    );
  });
}

function PanelE() {
  const at = [130, 130];
  const ring = (from: number, to: number, key: string) => (
    <Pie key={key} data={[{ v: 1 }]} dataKey="v" cx={at[0]} cy={at[1]} innerRadius={28.6} outerRadius={29.5} startAngle={from} endAngle={to} fill="#666" stroke="none" isAnimationActive={false} />
  );
  const polarData = polarNames.map((name, i) => ({ name, value: polarValues[i] }));
  return (
    <>
      <Box left={E_CX - 130} top={E_CY - 130}>
        <PieChart width={226} height={260} margin={{ top: 0, right: 0, bottom: 0, left: 0 }}>
          {radialPies(180, hcortLight, '#E8A0A4', at, 'hl')}
          {radialPies(180, hcortDark, RED, at, 'hd')}
          {radialPies(90, baseLight, '#A8A0D8', at, 'bl')}
          {radialPies(90, baseDark, NAVY, at, 'bd')}
          {radialPies(0, il6Light, '#AFC6DE', at, 'il')}
          {radialPies(0, il6Dark, STEEL, at, 'id')}
          {radialPies(-90, ifnLight, '#F2DFA6', at, 'fl')}
          {radialPies(-90, ifnDark, GOLD, at, 'fd')}
          {ring(176, 110, 'r1')}
          {ring(88, 20, 'r2')}
          {ring(-2, -70, 'r3')}
          {ring(-92, -160, 'r4')}
        </PieChart>
      </Box>
      <Box left={483} top={399}>
        <RadarChart width={80} height={80} cx={40} cy={40} outerRadius={26} data={polarData} margin={{ top: 0, right: 0, bottom: 0, left: 0 }}>
          <PolarGrid stroke="#DDDDDD" strokeWidth={0.5} gridType="circle" />
          <PolarAngleAxis dataKey="name" tick={{ fontSize: 3.6, fill: '#777', fontFamily: ARIAL }} tickSize={2} />
          <PolarRadiusAxis domain={[0, 1]} tick={false} axisLine={false} />
          <Radar dataKey="value" stroke="none" fill="none" dot={{ r: 0.9, fill: '#222', stroke: 'none' }} isAnimationActive={false} />
        </RadarChart>
      </Box>
    </>
  );
}

const ESTIMATE_PX = 50;

const estimateStars = (stars: string[], ests: number[], errs: number[]) => (p: any) => {
  const { x, y, width, height, index } = p;
  if (!stars[index]) return null;
  const pos = ests[index] >= 0;
  const end = pos ? Math.max(x, x + width) : Math.min(x, x + width);
  const sx = end + (pos ? 1 : -1) * (errs[index] * ESTIMATE_PX + 4);
  const sy = y + height / 2;
  return (
    <text x={sx} y={sy + 2.5} fontSize={9} fill="#222" textAnchor="middle" fontFamily={ARIAL} transform={`rotate(90 ${sx} ${sy})`}>
      {stars[index]}
    </text>
  );
};

function studyTick({ y, payload }: any) {
  const [first, second] = payload.value.split('|');
  return (
    <g>
      <text x={78} y={y - 2} fontSize={7.6} fill="#808080" textAnchor="end" fontFamily={ARIAL}>{first}</text>
      <text x={78} y={y + 7} fontSize={7.6} fill="#808080" textAnchor="end" fontFamily={ARIAL}>{second}</text>
    </g>
  );
}

function PanelFi() {
  const bars = [
    ['baseline', NAVY, starsBaseline, estBaseline, errBaseline],
    ['il6', STEEL, starsIL6, estIL6, errIL6],
    ['ifn', GOLD, starsIFN, estIFN, errIFN],
    ['hcort', RED, starsHcort, estHcort, errHcort],
  ] as any[];
  return (
    <Box left={40} top={575}>
      <BarChart layout="vertical" width={177} height={172} data={estimateTable} margin={{ top: 0, right: 10, bottom: 0, left: 0 }} barSize={11} barGap={0}>
        <CartesianGrid stroke="#EDEDED" verticalValues={[-0.8, -0.4, 0, 0.4, 0.8]} />
        <XAxis type="number" domain={[-0.76, 0.88]} ticks={[-0.4, 0, 0.4, 0.8]} allowDataOverflow height={20} axisLine={false} tickLine={false} interval={0}
          tickFormatter={(v: number) => v.toFixed(1)} tick={{ fontSize: 7.6, fill: '#666', fontFamily: ARIAL }} />
        <YAxis type="category" dataKey="study" width={85} axisLine={false} tickLine={false} tick={studyTick} interval={0} />
        {bars.map(([key, color, stars, ests, errs]) => (
          <Bar key={key} dataKey={key} fill={color} isAnimationActive={false}>
            <ErrorBar dataKey={`${key}Err`} direction="x" width={5} stroke="#3A3A3A" strokeWidth={0.8} />
            <LabelList dataKey={key} content={estimateStars(stars, ests, errs)} />
          </Bar>
        ))}
      </BarChart>
    </Box>
  );
}

const corrLabel = (counts: number[], sig: string[], values: number[]) => (p: any) => {
  const { x, y, width, height, index } = p;
  const top = Math.min(y, y + height);
  const bottom = Math.max(y, y + height);
  const cx = x + width / 2;
  const low = values[index] <= 0;
  return (
    <g>
      <text x={cx} y={low ? bottom + 6 : top + 5.5} fontSize={5.6} fill="#333" textAnchor="middle" fontFamily={ARIAL}>{counts[index]}</text>
      {sig[index] ? (
        <text x={cx} y={top + 0.5} fontSize={9} fill="#222" textAnchor="middle" fontFamily={ARIAL}>{sig[index]}</text>
      ) : null}
    </g>
  );
};

function PanelFii() {
  const tick = { fontSize: 6.5, fill: '#8A8A8A', fontFamily: ARIAL };
  return (
    <Box left={243} top={594}>
      <BarChart width={292} height={110} data={corrTable} margin={{ top: 10, right: 0, bottom: 0, left: 0 }} barSize={11.7} barGap={0}>
        <XAxis dataKey="cell" height={11} tick={tick} tickSize={2} stroke="#444" interval={0} padding={{ left: 6, right: 5 }} />
        <YAxis type="number" domain={[-0.385, 1.7]} ticks={[0, 0.5, 1, 1.5]} width={20} tick={tick} tickSize={2} stroke="#444" allowDataOverflow interval={0}
          tickFormatter={(v: number) => v.toFixed(1)} />
        <Bar dataKey="baseline" fill="#7272C0" stroke="#fff" strokeWidth={0.5} isAnimationActive={false}>
          <LabelList dataKey="baseline" content={corrLabel(nBaseline, sigBaseline, corrBaseline)} />
        </Bar>
        <Bar dataKey="il6" fill="#8FB0CC" stroke="#fff" strokeWidth={0.5} isAnimationActive={false}>
          <LabelList dataKey="il6" content={corrLabel(nIL6, sigIL6, corrIL6)} />
        </Bar>
        <Bar dataKey="ifn" fill="#ECD48C" stroke="#fff" strokeWidth={0.5} isAnimationActive={false}>
          <LabelList dataKey="ifn" content={corrLabel(nIFN, sigIFN, corrIFN)} />
        </Bar>
        <Bar dataKey="hcort" fill="#E38486" stroke="#fff" strokeWidth={0.5} isAnimationActive={false}>
          <LabelList dataKey="hcort" content={corrLabel(nHcort, sigHcort, corrHcort)} />
        </Bar>
      </BarChart>
    </Box>
  );
}

function LogLabel({ x, y }: any) {
  return (
    <T x={x} y={y} size={6.6} color="#333" font={ARIAL}>
      Log<tspan fontSize={4.6} dy={1.5}>2</tspan><tspan dy={-1.5}> fold change</tspan>
    </T>
  );
}

function PLabel({ x, y }: any) {
  return (
    <T x={x} y={y} size={6.2} color="#333" font={ARIAL} rotate={-90}>
      −Log<tspan fontSize={4.4} dy={1.5}>10</tspan><tspan dy={-1.5} fontStyle="italic"> P</tspan>
    </T>
  );
}

function Overlay() {
  const dash = { stroke: '#8CA0BC', strokeWidth: 0.7, strokeDasharray: '2 1.5' };
  const faint = { stroke: '#E2E2E2', strokeWidth: 1 };
  return (
    <svg width={670} height={756} style={{ position: 'absolute', left: 0, top: 0, pointerEvents: 'none' }}>
      {/* A */}
      <T x={21} y={16} size={16}>A.</T>
      <T x={87} y={23} size={10}>11%</T>
      <T x={175} y={23} size={10}>6%</T>
      <T x={257} y={23} size={10}>12%</T>
      <T x={348} y={22} size={10}>23%</T>
      <T x={113} y={46} size={10}>Baseline</T>
      <T x={113} y={58} size={10}>(n=3,440)</T>
      <T x={202} y={46} size={10}>IL6</T>
      <T x={203} y={58} size={10}>(n=3,403)</T>
      <T x={285} y={45} size={10}>IFNα2β</T>
      <T x={285} y={57} size={10}>(n=3,529)</T>
      <T x={375} y={43} size={10}>hCORT</T>
      <T x={375} y={57} size={10}>(n=3,747)</T>
      <T x={67} y={78} size={9.5}>22%</T>
      <T x={78} y={94} size={9.5}>10%</T>
      <T x={45} y={102} size={9.5}>68%</T>
      <T x={165} y={80} size={9.5}>22%</T>
      <T x={175} y={94} size={9.5}>10%</T>
      <T x={143} y={102} size={9.5}>68%</T>
      <T x={260} y={77} size={9.5}>26%</T>
      <T x={265} y={93} size={9.5}>4%</T>
      <T x={239} y={103} size={9.5}>70%</T>
      <T x={350} y={77} size={9.5}>25%</T>
      <T x={351} y={93} size={9.5}>9%</T>
      <T x={327} y={102} size={9.5}>66%</T>
      <line x1={77} y1={90} x2={96} y2={73} {...dash} />
      <line x1={76} y1={98} x2={96} y2={113} {...dash} />
      <line x1={176} y1={90} x2={195} y2={72} {...dash} />
      <line x1={174} y1={98} x2={195} y2={115} {...dash} />
      <line x1={278} y1={90} x2={286} y2={75} {...dash} />
      <line x1={276} y1={97} x2={286} y2={109} {...dash} />
      <line x1={362} y1={90} x2={376} y2={72} {...dash} />
      <line x1={360} y1={98} x2={376} y2={111} {...dash} />

      {/* B */}
      <T x={417} y={16} size={16}>B.</T>
      <T x={439} y={83} size={9.5} rotate={-90}>Alpha Transcriptional Rate</T>
      <T x={476} y={163} size={11}>hCORT</T>
      <T x={477} y={176} size={9}>(n=3,747)</T>
      <T x={526} y={164} size={11}>IL6</T>
      <T x={526} y={177} size={9}>(n=3,403)</T>
      <T x={578} y={164} size={11}>IFNα2β</T>
      <T x={578} y={177} size={9}>(n=3,529)</T>
      <T x={633} y={164} size={11}>Baseline</T>
      <T x={633} y={177} size={9}>(n=3,440)</T>

      {/* C */}
      <T x={19} y={130} size={16}>C.</T>
      <T x={10} y={178} size={14} rotate={-90}>Baseline</T>
      <T x={28} y={178} size={14} rotate={-90}>(n=3,440)</T>
      <T x={10} y={290} size={14} rotate={-90}>IL6</T>
      <T x={28} y={290} size={14} rotate={-90}>(n=3,403)</T>
      <T x={10} y={398} size={14} rotate={-90}>IFNα2β</T>
      <T x={28} y={401} size={14} rotate={-90}>(n=3,529)</T>
      <T x={10} y={508} size={14} rotate={-90}>hCORT</T>
      <T x={28} y={510} size={14} rotate={-90}>(n=3,747)</T>
      <T x={46} y={175} size={6.4} weight={700} font={ARIAL} rotate={-90}>-log10 Pval</T>
      <T x={46} y={287} size={6.4} weight={700} font={ARIAL} rotate={-90}>-log10 Pval</T>
      <T x={46} y={395} size={6.4} weight={700} font={ARIAL} rotate={-90}>-log10 Pval</T>
      <T x={46} y={500} size={6.4} weight={700} font={ARIAL} rotate={-90}>-log10 Pval</T>
      <T x={75} y={131} size={4.4} weight={700} italic font={ARIAL} color="#333">iGLUT_NoTx</T>
      <T x={72} y={235} size={4.4} weight={700} italic font={ARIAL} color="#333">iGLUT_IL6</T>
      <T x={73} y={346} size={4.4} weight={700} italic font={ARIAL} color="#333">iGLUT_INFa</T>
      <T x={77} y={456} size={4.4} weight={700} italic font={ARIAL} color="#333">iGLUT_hCORT</T>
      <T x={55} y={558} size={6} font={ARIAL}>Chr</T>

      <PLabel x={310} y={177} />
      <LogLabel x={377} y={217} />
      <T x={428} y={227} size={3.8} font={ARIAL} anchor="end" color="#444">total = 1350 variables</T>
      <PLabel x={310} y={283} />
      <LogLabel x={372} y={325} />
      <T x={428} y={335} size={3.8} font={ARIAL} anchor="end" color="#444">total = 1384 variables</T>
      <PLabel x={310} y={390} />
      <LogLabel x={375} y={435} />
      <T x={430} y={445} size={3.8} font={ARIAL} anchor="end" color="#444">total = 1331 variables</T>
      <PLabel x={313} y={502} />
      <LogLabel x={382} y={549} />
      <T x={430} y={558} size={3.8} font={ARIAL} anchor="end" color="#444">total = 1400 variables</T>
      <T x={333} y={571} size={4.6} font={ARIAL} color="#666">□ NS</T>
      <T x={355} y={571} size={4.6} font={ARIAL} color="#666">× Log₂ FC</T>
      <T x={380} y={571} size={4.6} font={ARIAL} color="#666">○ p-value</T>
      <T x={416} y={571} size={4.6} font={ARIAL} color="#666">▽ p-value and log₂</T>

      {/* D */}
      <T x={450} y={210} size={16}>D.</T>
      <T x={489} y={198} size={10.5}>Baseline</T>
      <T x={557} y={199} size={10.5}>Baseline</T>
      <T x={625} y={198} size={10.5}>Baseline</T>
      <T x={490} y={395} size={10.5}>IL6</T>
      <T x={557} y={394} size={10.5}>IFNα2β</T>
      <T x={627} y={394} size={10.5}>IFNα2β</T>
      <T x={458} y={246} size={10.5} rotate={-90}>hCORT</T>
      <T x={528} y={247} size={10.5} rotate={-90}>IFNα2β</T>
      <T x={593} y={246} size={10.5} rotate={-90}>IL6</T>
      <T x={458} y={337} size={10.5} rotate={-90}>hCORT</T>
      <T x={527} y={333} size={10.5} rotate={-90}>hCORT</T>
      <T x={593} y={338} size={10.5} rotate={-90}>IL6</T>

      {/* E */}
      <T x={458} y={425} size={16}>E.</T>
      {radialLabels(180, hcortNames, hcortLight, hcortDark)}
      {radialLabels(90, baseNames, baseLight, baseDark)}
      {radialLabels(0, il6Names, il6Light, il6Dark)}
      {radialLabels(-90, ifnNames, ifnLight, ifnDark)}
      <T x={570} y={508} size={6.6} weight={700} font={ARIAL} color="#555" anchor="end">hCORT</T>
      <T x={571} y={507} size={6.6} weight={700} font={ARIAL} color="#777" anchor="start">Baseline</T>
      <T x={565} y={541} size={8} font={ARIAL} color="#444">IFNα</T>
      <T x={591} y={535} size={6.6} weight={700} font={ARIAL} color="#555">IL6</T>
      <T x={568} y={478} size={5} font={ARIAL} color="#AAA">2</T>
      <T x={568} y={467} size={5} font={ARIAL} color="#AAA">4</T>
      <T x={568} y={457} size={5} font={ARIAL} color="#AAA">6</T>
      <T x={568} y={446} size={5} font={ARIAL} color="#AAA">8</T>
      <T x={488} y={439} size={3.4} font={ARIAL} color="#666" rotate={-90}>Absolute Genetic Size</T>
      <line x1={497} y1={528} x2={498} y2={542} {...faint} />
      <line x1={508} y1={530} x2={509} y2={542} {...faint} />
      <line x1={519} y1={532} x2={520} y2={542} {...faint} />
      <line x1={629} y1={508} x2={628} y2={521} {...faint} />
      <line x1={640} y1={510} x2={638} y2={521} {...faint} />
      <line x1={650} y1={512} x2={650} y2={521} {...faint} />
      <line x1={577} y1={578} x2={588} y2={577} {...faint} />
      <line x1={577} y1={588} x2={587} y2={587} {...faint} />
      <line x1={577} y1={598} x2={593} y2={597} {...faint} />

      {/* F */}
      <T x={21} y={577} size={16}>F.</T>
      <T x={46} y={582} size={16}>i.</T>
      <T x={231} y={581} size={16}>ii.</T>
      <T x={165} y={750} size={10} font={ARIAL} color="#333">Estimate</T>
      <T x={247} y={648} size={7.6} font={ARIAL} color="#444" rotate={-90}>Linear Correlation Coefficient</T>
      <path d="M218,577 H227 V609 L239,611 L227,613 V645 H218" fill="none" stroke="#8CA5DC" strokeWidth={1} />
      <T x={281} y={721} size={10} font={ARIAL}>cond</T>
      <rect x={294} y={715} width={14} height={12} fill={RED} />
      <T x={326} y={721} size={7} font={ARIAL}>hCORT</T>
      <rect x={359} y={715} width={13} height={12} fill={STEEL} />
      <T x={385} y={721} size={7} font={ARIAL}>IL6</T>
      <rect x={412} y={715} width={14} height={12} fill={GOLD} />
      <T x={447} y={721} size={8} font={ARIAL}>IFNα2β</T>
      <rect x={470} y={715} width={13} height={12} fill={NAVY} />
      <T x={505} y={721} size={7} font={ARIAL}>Baseline</T>
    </svg>
  );
}

export default function App() {
  return (
    <div style={{ position: 'absolute', left: 0, top: 0, width: 670, height: 756, background: '#fff', overflow: 'hidden' }}>
      <PanelA />
      <PanelB />

      <Manhattan top={128} height={97} domain={[-16.3, 16]} ticks={[-15, -10, -5, 0, 5, 10, 15]} hits={baselineHits} genes={baselineGenes} />
      <Manhattan top={228} height={107} domain={[-12.9, 16.5]} ticks={[-10, -5, 0, 5, 10, 15]} hits={il6Hits} genes={il6Genes} />
      <Manhattan top={343} height={105} domain={[-15.5, 9.2]} ticks={[-15, -10, -5, 0, 5]} hits={ifnHits} genes={ifnGenes} />
      <Manhattan top={451} height={100} domain={[-30.8, 20.5]} ticks={[-30, -20, -10, 0, 10, 20]} hits={hcortHits} genes={hcortGenes} axis />

      <Volcano left={325} top={138} right={428} bottom={204} xDomain={[-7.5, 7.4]} yDomain={[-1, 21.4]} xTicks={[-4, 0, 4]} yTicks={[0, 5, 10, 15, 20]} red={volcanoRed1} tags={volcanoLabels1} />
      <Volcano left={325} top={248} right={428} bottom={312} xDomain={[-7.3, 8.75]} yDomain={[-0.6, 18.5]} xTicks={[-4, 0, 4, 8]} yTicks={[0, 5, 10, 15]} red={volcanoRed2} tags={volcanoLabels2} />
      <Volcano left={325} top={356} right={430} bottom={422} xDomain={[-5.7, 6.2]} yDomain={[-0.75, 15.75]} xTicks={[-3, 0, 3, 6]} yTicks={[0, 5, 10, 15]} red={volcanoRed3} tags={volcanoLabels3} />
      <Volcano left={329} top={471} right={430} bottom={536} xDomain={[-7.15, 6.5]} yDomain={[-1.4, 28.2]} xTicks={[-4, 0, 4]} yTicks={[0, 10, 20]} red={volcanoRed4} tags={volcanoLabels4} />

      <HeatQuad lx={[466, 485]} rx={[489, 512]} ty={[203, 234]} by={[243, 292]} tr={heatA1} bl={heatA2} />
      <HeatQuad lx={[535, 554]} rx={[559, 582]} ty={[203, 244]} by={[249, 292]} tr={heatB1} bl={heatB2} />
      <HeatQuad lx={[600, 619]} rx={[624, 648]} ty={[204, 249]} by={[257, 292]} tr={heatC1} bl={heatC2} />
      <HeatQuad lx={[466, 485]} rx={[490, 512]} ty={[295, 324]} by={[333, 383]} tr={heatD1} bl={heatD2} />
      <HeatQuad lx={[534, 558]} rx={[563, 582]} ty={[295, 324]} by={[333, 383]} tl={heatE0} tr={heatE1} bl={heatE2} />
      <HeatQuad lx={[600, 623]} rx={[627, 647]} ty={[295, 342]} by={[347, 383]} tr={heatF1} bl={heatF2} />

      <PanelE />
      <PanelFi />
      <PanelFii />
      <Overlay />
    </div>
  );
}
